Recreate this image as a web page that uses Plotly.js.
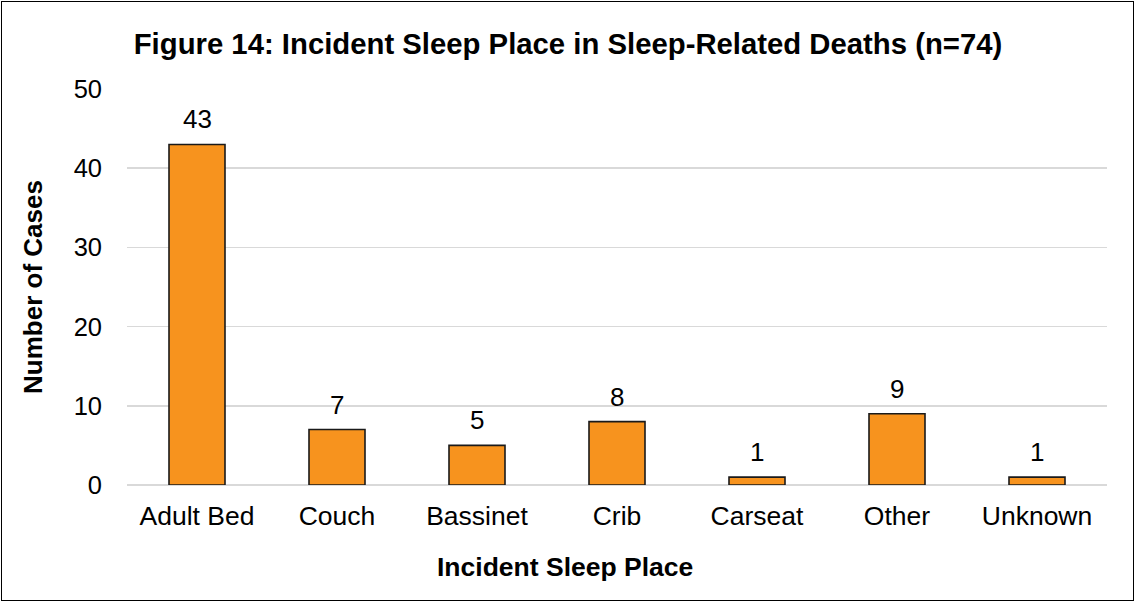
<!DOCTYPE html>
<html><head><meta charset="utf-8">
<script src="https://cdn.plot.ly/plotly-3.0.1.min.js"></script>
<style>body{margin:0;background:#fff}#wrap{position:relative;width:1136px;height:603px}#chart{position:absolute;left:0;top:0;width:1136px;height:603px}#frame{position:absolute;left:1px;top:1px;width:1131px;height:598px;border:1.5px solid #000;pointer-events:none}</style>
</head><body><div id="wrap"><div id="chart"></div><div id="frame"></div></div>
<script>
const categories = ["Adult Bed","Couch","Bassinet","Crib","Carseat","Other","Unknown"];
const cases = [43,7,5,8,1,9,1];
const yTicks = [0,10,20,30,40,50];
const font = "Liberation Sans, Arial, sans-serif";
const labelAnnotations = categories.map((c, i) => ({
  x: c, y: cases[i], xref: "x", yref: "y", text: String(cases[i]), showarrow: false,
  yanchor: "middle", yshift: 25, font: {family: font, size: 26, color: "#000"}
}));
Plotly.newPlot("chart", [{
  type: "bar", x: categories, y: cases,
  marker: {color: "#F7931E", line: {color: "#1a1a1a", width: 1.6}},
  width: 0.4, hoverinfo: "none"
}], {
  width: 1136, height: 603,
  margin: {l: 127, r: 29, t: 89, b: 118},
  paper_bgcolor: "#fff", plot_bgcolor: "#fff",
  showlegend: false,
  title: {text: "<b>Figure 14: Incident Sleep Place in Sleep-Related Deaths (n=74)</b>", font: {family: font, size: 29.3, color: "#000"}, x: 0.5, xanchor: "center", y: 0.928, yanchor: "middle"},
  annotations: labelAnnotations.concat([{
    text: "<b>Incident Sleep Place</b>", xref: "paper", yref: "paper", x: 0.447, y: -0.207,
    xanchor: "center", yanchor: "middle", showarrow: false, font: {family: font, size: 26.5, color: "#000"}
  }]),
  xaxis: {type: "category", tickfont: {family: font, size: 26.5, color: "#000"}, showgrid: false, showline: false, ticks: "",
    ticklabelstandoff: 12},
  yaxis: {range: [0, 50], tickvals: yTicks, tickfont: {family: font, size: 25.5, color: "#000"},
    gridcolor: "#d9d9d9", gridwidth: 1.5, zeroline: true, zerolinecolor: "#d9d9d9", zerolinewidth: 1.5,
    showline: false, ticks: "", ticklen: 0, ticklabelstandoff: 24,
    title: {text: "<b>Number of Cases</b>", font: {family: font, size: 26, color: "#000"}, standoff: 23}}
}, {displayModeBar: false, staticPlot: true});
</script></body></html>
